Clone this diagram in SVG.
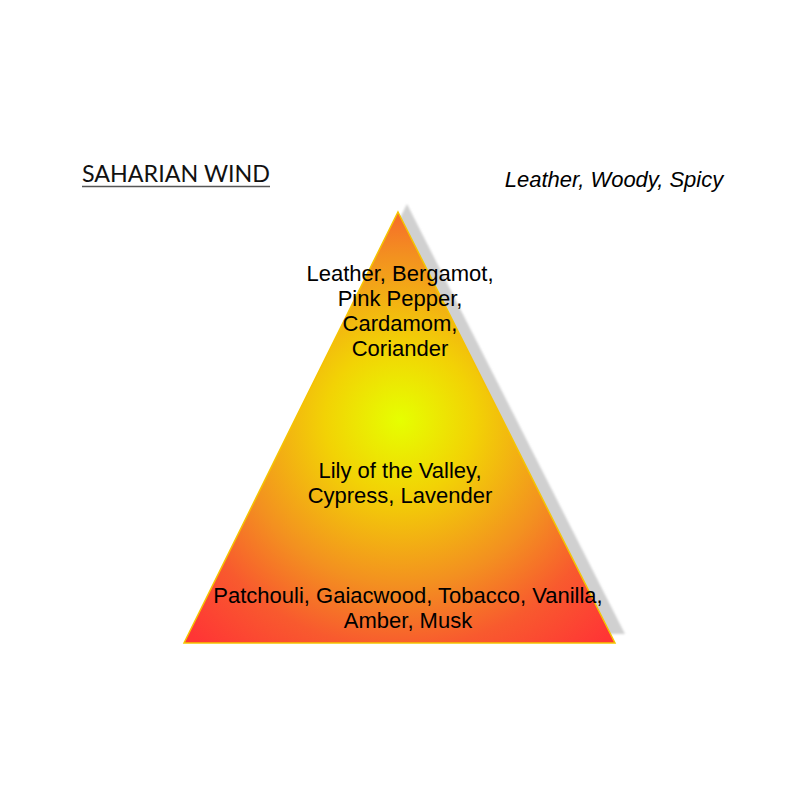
<svg xmlns="http://www.w3.org/2000/svg" width="800" height="800" viewBox="0 0 800 800">
<defs>
<radialGradient id="g" gradientUnits="userSpaceOnUse" cx="400" cy="420" r="300">
<stop offset="0" stop-color="#e6ff00"/>
<stop offset="0.25" stop-color="#f2d205"/>
<stop offset="0.55" stop-color="#f39020"/>
<stop offset="0.76" stop-color="#f85a2e"/>
<stop offset="1" stop-color="#ff3535"/>
</radialGradient>
<filter id="blur" x="-10%" y="-10%" width="120%" height="120%"><feGaussianBlur stdDeviation="1"/></filter>
</defs>
<style>
.t{font-family:"Liberation Sans",Arial,sans-serif;font-size:22px;fill:#000;text-anchor:middle}
</style>
<rect width="800" height="800" fill="#fff"/>
<g id="title">
<text x="82" y="182" font-family="Lato,'Liberation Sans',sans-serif" font-size="24" textLength="188" lengthAdjust="spacingAndGlyphs" fill="#111">SAHARIAN WIND</text>
<line x1="82" y1="186.5" x2="270" y2="186.5" stroke="#555" stroke-width="1.5"/>
</g>
<g id="category">
<text x="614" y="187" font-family="'Liberation Sans',Arial,sans-serif" font-size="22" font-style="italic" text-anchor="middle">Leather, Woody, Spicy</text>
</g>
<g id="pyramid">
<polygon points="407,204 625,634 190,634" fill="#d0d0d0" filter="url(#blur)"/>
<polygon points="398,212 615,643 184,643" fill="url(#g)" stroke="#f5c400" stroke-width="1.5"/>
</g>
<g id="top">
<text class="t" x="400" y="281">Leather, Bergamot,</text>
<text class="t" x="400" y="306">Pink Pepper,</text>
<text class="t" x="400" y="331">Cardamom,</text>
<text class="t" x="400" y="356">Coriander</text>
</g>
<g id="heart">
<text class="t" x="400" y="478">Lily of the Valley,</text>
<text class="t" x="400" y="503">Cypress, Lavender</text>
</g>
<g id="base">
<text class="t" x="408" y="603">Patchouli, Gaiacwood, Tobacco, Vanilla,</text>
<text class="t" x="408" y="628">Amber, Musk</text>
</g>
</svg>
